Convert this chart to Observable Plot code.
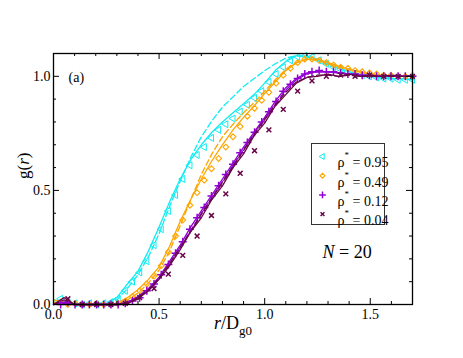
<!DOCTYPE html>
<html><head><meta charset="utf-8">
<script src="https://cdn.jsdelivr.net/npm/d3@7"></script>
<script src="https://cdn.jsdelivr.net/npm/@observablehq/plot@0.6"></script>
<style>
html,body{margin:0;padding:0;background:#fff;}
#chart svg text{font-family:"Liberation Serif","Times New Roman",serif !important;}
</style>
</head><body><div id="chart"></div>
<script>
// ---- data ----
const densities = ["0.95", "0.49", "0.12", "0.04"];
const seriesColors = ["#10ecf2", "#ffa500", "#9400d3", "#670748"];

const xMajor = [0, 0.5, 1, 1.5];
const xMinor = [0.1, 0.2, 0.3, 0.4, 0.6, 0.7, 0.8, 0.9, 1.1, 1.2, 1.3, 1.4, 1.6];
const yMajor = [0, 0.5, 1.0];
const yMinor = [0.1, 0.2, 0.3, 0.4, 0.6, 0.7, 0.8, 0.9];
const xDomain = [0, 1.7];
const yDomain = [0, 1.1];

const rLine = [0,0.05,0.1,0.15,0.2,0.25,0.3,0.35,0.4,0.45,0.5,0.55,0.6,0.65,0.7,0.75,0.8,0.85,0.9,0.95,1.0,1.05,1.1,1.15,1.2,1.25,1.3,1.35,1.4,1.45,1.5,1.55,1.6,1.65,1.7];

const cyanSolid   = [0.02,0.01,0.005,0,0,0.005,0.03,0.09,0.145,0.235,0.34,0.45,0.55,0.635,0.70,0.755,0.80,0.84,0.88,0.92,0.97,1.025,1.065,1.09,1.09,1.075,1.055,1.035,1.02,1.005,1.0,0.995,0.99,0.99,0.985];
const cyanDashed  = [0.01,0.005,0,0,0,0,0.02,0.07,0.13,0.21,0.31,0.43,0.54,0.645,0.735,0.805,0.865,0.91,0.955,0.99,1.025,1.055,1.08,1.09,1.085,1.07,1.05,1.035,1.02,1.01,1.0,0.995,0.99,0.99,0.99];
const orangeSolid = [0.02,0.01,0,0,0,0,0.005,0.03,0.065,0.11,0.165,0.255,0.365,0.46,0.55,0.63,0.70,0.765,0.82,0.87,0.925,0.975,1.025,1.06,1.075,1.075,1.06,1.045,1.03,1.02,1.01,1.005,1.0,1.0,1.0];
const orangeDashed= [0.01,0.005,0,0,0,0,0,0.02,0.05,0.095,0.15,0.235,0.345,0.46,0.57,0.66,0.735,0.79,0.84,0.885,0.935,0.985,1.03,1.06,1.075,1.07,1.055,1.04,1.03,1.02,1.01,1.005,1.0,1.0,1.0];
const violetSolid = [0,0.01,0,0,0,0,0,0.01,0.035,0.07,0.12,0.19,0.26,0.34,0.41,0.48,0.55,0.62,0.69,0.755,0.82,0.89,0.95,0.99,1.015,1.02,1.02,1.015,1.01,1.005,1.005,1.0,1.0,1.0,1.0];
const violetDashed= [0,0.005,0,0,0,0,0,0.005,0.03,0.065,0.115,0.18,0.25,0.325,0.40,0.47,0.54,0.61,0.68,0.75,0.815,0.88,0.94,0.985,1.01,1.02,1.02,1.015,1.01,1.005,1.0,1.0,1.0,1.0,1.0];
const maroonSolid = [0,0.03,0,0,0,0,0,0.005,0.025,0.06,0.11,0.17,0.24,0.32,0.38,0.46,0.52,0.60,0.66,0.74,0.795,0.87,0.92,0.97,0.995,1.0,1.01,1.0,1.01,1.0,1.005,1.0,1.005,1.0,1.0];
const maroonDashed= [0,0.02,0,0,0,0,0,0.005,0.03,0.065,0.115,0.18,0.25,0.32,0.395,0.465,0.535,0.605,0.675,0.745,0.81,0.875,0.93,0.975,0.995,1.005,1.005,1.0,1.005,1.0,1.0,1.0,1.0,1.0,1.0];

const rMark = [0.034,0.068,0.102,0.136,0.17,0.204,0.238,0.272,0.306,0.34,0.374,0.408,0.442,0.476,0.51,0.544,0.578,0.612,0.646,0.68,0.714,0.748,0.782,0.816,0.85,0.884,0.918,0.952,0.986,1.02,1.054,1.088,1.122,1.156,1.19,1.224,1.258,1.292,1.326,1.36,1.394,1.428,1.462,1.496,1.53,1.564,1.598,1.632,1.666,1.7];
const cyanMarks   = [0.025,0.01,0.005,0,0.005,0,0.005,0.01,0.025,0.06,0.10,0.14,0.19,0.26,0.33,0.41,0.48,0.55,0.61,0.655,0.69,0.73,0.765,0.79,0.815,0.845,0.875,0.905,0.935,0.975,1.01,1.04,1.07,1.085,1.09,1.085,1.07,1.055,1.04,1.03,1.02,1.01,1.005,1.0,0.995,0.99,0.99,0.985,0.985,0.985];
const orangeMarks = [0.01,0,0.005,0,0,0.005,0,0,0.005,0.015,0.035,0.06,0.09,0.125,0.17,0.23,0.30,0.37,0.435,0.49,0.545,0.595,0.64,0.69,0.735,0.78,0.825,0.86,0.895,0.93,0.97,1.005,1.035,1.06,1.075,1.075,1.07,1.06,1.05,1.04,1.035,1.025,1.02,1.015,1.01,1.005,1.005,1.0,1.0,1.0];
const violetMarks = [0,0.01,0,0,0,0,0,0,0,0.005,0.015,0.03,0.06,0.09,0.13,0.175,0.225,0.275,0.33,0.38,0.425,0.475,0.52,0.57,0.615,0.665,0.71,0.755,0.80,0.845,0.89,0.935,0.965,0.99,1.01,1.02,1.025,1.02,1.02,1.015,1.01,1.01,1.005,1.005,1.0,1.0,1.0,1.0,1.0,1.0];
const rCross = [0.068,0.136,0.204,0.272,0.34,0.408,0.476,0.544,0.612,0.68,0.748,0.816,0.884,0.952,1.02,1.088,1.156,1.224,1.292,1.36,1.428,1.496,1.564,1.632,1.7];
const maroonMarks = [0.025,0,0,0,0.005,0.03,0.07,0.133,0.215,0.30,0.39,0.485,0.575,0.674,0.765,0.855,0.935,0.98,1.0,1.005,1.0,1.005,1.0,1.0,1.0];

// ---- helpers ----
const SERIF = "Liberation Serif";
const triangleLeft = {
  draw(ctx, size) {
    const a = Math.sqrt(size * 4 / Math.sqrt(3));
    const h = a * Math.sqrt(3) / 2;
    ctx.moveTo(-2 * h / 3, 0);
    ctx.lineTo(h / 3, -a / 2);
    ctx.lineTo(h / 3, a / 2);
    ctx.closePath();
  }
};
const symbols = [triangleLeft, "diamond2", "plus", "times"];
const symR = [2.6, 2.6, 2.7, 2.3];
const symW = [1, 1.1, 1.5, 1.5];

const linePairs = [[cyanSolid, cyanDashed], [orangeSolid, orangeDashed], [violetSolid, violetDashed], [maroonSolid, maroonDashed]];
const markSets = [[rMark, cyanMarks], [rMark, orangeMarks], [rMark, violetMarks], [rCross, maroonMarks]];

const marks = [];
linePairs.forEach(([solid, dashed], i) => {
  const solidData = rLine.map((r, k) => ({r, g: solid[k]}));
  const dashedData = rLine.map((r, k) => ({r, g: dashed[k]}));
  marks.push(Plot.line(dashedData, {x: "r", y: "g", stroke: seriesColors[i], strokeWidth: 1.3, strokeDasharray: "6,3"}));
  marks.push(Plot.line(solidData, {x: "r", y: "g", stroke: seriesColors[i], strokeWidth: 1.3}));
  const [rs, gs] = markSets[i];
  const md = rs.map((r, k) => ({r, g: gs[k]}));
  marks.push(Plot.dot(md, {x: "r", y: "g", symbol: symbols[i], r: symR[i], stroke: seriesColors[i], fill: "none", strokeWidth: symW[i]}));
});

// ticks (inside, all four sides)
const tick = (vals, len) => [
  Plot.ruleX(vals, {x: d => d, y1: yDomain[0], y2: yDomain[0], insetBottom: len, stroke: "black", strokeWidth: 1}),
  Plot.ruleX(vals, {x: d => d, y1: yDomain[1], y2: yDomain[1], insetBottom: -len, stroke: "black", strokeWidth: 1})
];
const tickY = (vals, len) => [
  Plot.ruleY(vals, {y: d => d, x1: xDomain[0], x2: xDomain[0], insetRight: -len, stroke: "black", strokeWidth: 1}),
  Plot.ruleY(vals, {y: d => d, x1: xDomain[1], x2: xDomain[1], insetRight: len, stroke: "black", strokeWidth: 1})
];

// legend
const legendMarks = [Plot.frame({stroke: "#333", strokeWidth: 1, insetLeft: 258, insetTop: 90, insetRight: 28, insetBottom: 80})];
densities.forEach((d, i) => {
  const dy = 103 + i * 19.2;
  legendMarks.push(Plot.dot([0], {frameAnchor: "top-left", dx: 269, dy, symbol: symbols[i], r: symR[i] - 0.4, stroke: seriesColors[i], fill: "none", strokeWidth: symW[i]}));
  legendMarks.push(Plot.text([`ρ* = ${d}`], {text: d => d, frameAnchor: "top-left", dx: 284, dy: dy + 1, textAnchor: "start", fontSize: 14, fontFamily: SERIF, fill: "black"}));
});

const chart = Plot.plot({
  width: 463, height: 358,
  marginLeft: 53, marginRight: 51, marginTop: 53, marginBottom: 54,
  x: {domain: xDomain},
  y: {domain: yDomain},
  style: {fontFamily: SERIF, fontSize: "13px", background: "white", color: "black"},
  marks: [
    ...marks,
    Plot.frame({stroke: "black", strokeWidth: 1.3}),
    ...tick(xMajor.slice(1), 6), ...tick(xMinor, 3),
    ...tickY(yMajor.slice(1), 6), ...tickY(yMinor, 3),
    Plot.axisX(xMajor, {tickSize: 0, tickPadding: 5, fontSize: 14, fontFamily: SERIF, label: null}),
    Plot.axisY(yMajor, {tickSize: 0, tickPadding: 3, fontSize: 14, fontFamily: SERIF, label: null, tickFormat: d3.format(".1f")}),
    ...legendMarks,
    Plot.text(["g(r)"], {text: d => d, frameAnchor: "left", dx: -30, rotate: -90, fontSize: 17, fontFamily: SERIF, fill: "black"}),
    Plot.text(["r/Dg0"], {text: d => d, frameAnchor: "bottom", dy: 24, fontSize: 18, fontFamily: SERIF, fill: "black"}),
    Plot.text(["(a)"], {text: d => d, frameAnchor: "top-left", dx: 15, dy: 19, textAnchor: "start", fontSize: 14, fontFamily: SERIF, fill: "black"}),
    Plot.text(["N = 20"], {text: d => d, frameAnchor: "top-left", dx: 269, dy: 192, textAnchor: "start", fontSize: 18, fontFamily: SERIF, fill: "black"})
  ]
});
document.getElementById("chart").appendChild(chart);

// rich text: italics, sub/superscripts
d3.select(chart).selectAll("text").each(function() {
  const t = this.textContent;
  const el = d3.select(this);
  if (t.startsWith("ρ*")) {
    el.text(null);
    el.append("tspan").text("ρ");
    el.append("tspan").attr("dy", -9).attr("font-size", 9).text("*");
    el.append("tspan").attr("dy", 9).text(t.slice(2));
  } else if (t === "g(r)") {
    el.text(null);
    el.append("tspan").text("g(");
    el.append("tspan").attr("font-style", "italic").text("r");
    el.append("tspan").text(")");
  } else if (t === "r/Dg0") {
    el.text(null);
    el.append("tspan").attr("font-style", "italic").text("r");
    el.append("tspan").text("/D");
    el.append("tspan").attr("dy", 6).attr("font-size", 13).text("g0");
  } else if (t === "N = 20") {
    el.text(null);
    el.append("tspan").attr("font-style", "italic").text("N");
    el.append("tspan").text(" = 20");
  }
});
</script>
</body></html>
